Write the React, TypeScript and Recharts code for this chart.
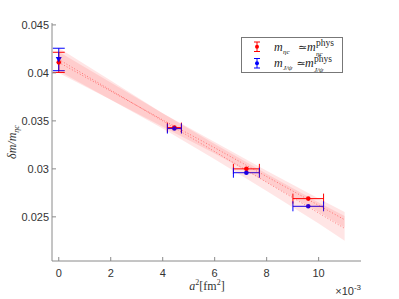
import React from 'react';
import {
  ComposedChart, Area, Line, Scatter, ErrorBar, XAxis, YAxis, Legend
} from 'recharts';

// a^2 in units of 1e-3 fm^2
const etaX = [0, 4.45, 7.22, 9.6];
const etaY = [0.0411, 0.0343, 0.03, 0.0269];
const etaXErr = [0, 0.27, 0.5, 0.59];
const etaYErr = [0.00105, 0, 0, 0];

const jpsiX = [0, 4.45, 7.22, 9.6];
const jpsiY = [0.0414, 0.0342, 0.0296, 0.0261];
const jpsiXErr = [0, 0.27, 0.5, 0.59];
const jpsiYErr = [0.00117, 0, 0, 0];

// continuum fits and their error bands
const fitX = [0, 2, 4, 6, 8, 10, 11];
const fit1Mid = [0.0411, 0.0381, 0.0351, 0.0322, 0.0292, 0.0262, 0.0247];
const fit1Lo = [0.04, 0.0372, 0.0344, 0.0316, 0.0286, 0.0255, 0.0239];
const fit1Hi = [0.0422, 0.039, 0.0358, 0.0328, 0.0298, 0.0269, 0.0255];
const fit2Mid = [0.0414, 0.0382, 0.035, 0.0318, 0.0286, 0.0254, 0.0238];
const fit2Lo = [0.0402, 0.0372, 0.0342, 0.031, 0.0277, 0.0243, 0.0225];
const fit2Hi = [0.0426, 0.0392, 0.0358, 0.0326, 0.0295, 0.0265, 0.0251];

const xTicks = [0, 2, 4, 6, 8, 10];
const yTicks = [0.025, 0.03, 0.035, 0.04, 0.045];

const etaData = etaX.map((x, i) => ({ x, y: etaY[i], ex: etaXErr[i], ey: etaYErr[i] }));
const jpsiData = jpsiX.map((x, i) => ({ x, y: jpsiY[i], ex: jpsiXErr[i], ey: jpsiYErr[i] }));
const band1 = fitX.map((x, i) => ({ x, r: [fit1Lo[i], fit1Hi[i]] }));
const band2 = fitX.map((x, i) => ({ x, r: [fit2Lo[i], fit2Hi[i]] }));
const line1 = fitX.map((x, i) => ({ x, y: fit1Mid[i] }));
const line2 = fitX.map((x, i) => ({ x, y: fit2Mid[i] }));

const AXIS = '#8a8a8a';
const TXT = '#333';
const SANS = '"Liberation Sans", Arial, sans-serif';
const SERIF = '"Liberation Serif", "DejaVu Serif", serif';

const redDot = (p: any) => <circle cx={p.cx} cy={p.cy} r={2.3} fill="#ff0000" />;
const blueDot = (p: any) => {
  if (p.payload && p.payload.x === 0) {
    const { cx, cy } = p;
    return <path d={`M${cx - 3},${cy - 2.5}L${cx + 3},${cy - 2.5}L${cx},${cy + 3}Z`} fill="#0000ff" />;
  }
  return <circle cx={p.cx} cy={p.cy} r={2.3} fill="#0000ff" />;
};

const LegendBox = () => (
  <svg width={102} height={36} style={{ display: 'block' }}>
    <rect x={0.5} y={0.5} width={101} height={35} fill="#fff" stroke="#777" />
    <g stroke="#ff0000" strokeWidth={1}>
      <line x1={16} y1={5} x2={16} y2={14.5} />
      <line x1={13} y1={5} x2={19} y2={5} />
      <line x1={13} y1={14.5} x2={19} y2={14.5} />
    </g>
    <circle cx={16} cy={9.7} r={2} fill="#ff0000" />
    <g stroke="#0000ff" strokeWidth={1}>
      <line x1={16} y1={21.5} x2={16} y2={31} />
      <line x1={13} y1={21.5} x2={19} y2={21.5} />
      <line x1={13} y1={31} x2={19} y2={31} />
    </g>
    <circle cx={16} cy={26.3} r={2} fill="#0000ff" />
    <g fontFamily={SERIF} fill="#222">
      <text x={33} y={14} fontSize={12} fontStyle="italic">m</text>
      <text x={42} y={17} fontSize={7} fontStyle="italic">ηc</text>
      <text x={57} y={14} fontSize={11}>≃</text>
      <text x={66} y={14} fontSize={12} fontStyle="italic">m</text>
      <text x={75} y={8.5} fontSize={9.5}>phys</text>
      <text x={75} y={18.5} fontSize={7} fontStyle="italic">ηc</text>
      <text x={33} y={30} fontSize={12} fontStyle="italic">m</text>
      <text x={42} y={33} fontSize={7} fontStyle="italic">J/ψ</text>
      <text x={55.5} y={30} fontSize={11}>≃</text>
      <text x={64} y={30} fontSize={12} fontStyle="italic">m</text>
      <text x={73} y={24.5} fontSize={9.5}>phys</text>
      <text x={73} y={34.5} fontSize={7} fontStyle="italic">J/ψ</text>
    </g>
  </svg>
);

const XLabel = () => (
  <g>
    <text x={207} y={290} textAnchor="middle" fontFamily={SERIF} fontSize={12} fill="#333">
      <tspan fontStyle="italic">a</tspan>
      <tspan fontSize={8} dy={-5}>2</tspan>
      <tspan dy={5}>[fm</tspan>
      <tspan fontSize={8} dy={-5}>2</tspan>
      <tspan dy={5}>]</tspan>
    </text>
    <text x={361} y={295} textAnchor="end" fontFamily={SANS} fontSize={11} fill={TXT}>
      <tspan>×10</tspan>
      <tspan fontSize={8} dy={-5}>-3</tspan>
    </text>
  </g>
);

const YLabel = () => (
  <text x={16} y={142} transform="rotate(-90, 16, 142)" textAnchor="middle"
    fontFamily={SERIF} fontSize={12} fill="#333" fontStyle="italic">
    <tspan>δm/m</tspan>
    <tspan fontSize={8} dy={3}>ηc</tspan>
  </text>
);

export default function App() {
  return (
    <div style={{ position: 'absolute', left: 0, top: 0, width: 399, height: 299, background: '#fff' }}>
      <ComposedChart width={399} height={299} margin={{ top: 23, right: 38, bottom: 0, left: 0 }}>
        <XAxis xAxisId={0} dataKey="x" type="number" domain={[-0.26, 11.63]} allowDataOverflow
          ticks={xTicks} height={38} tickSize={-4} tickMargin={12}
          stroke={AXIS} tick={{ fill: TXT, fontSize: 11, fontFamily: SANS }}
          label={{ content: () => <XLabel /> }} />
        <XAxis xAxisId="top" orientation="top" dataKey="x" type="number" domain={[-0.26, 11.63]}
          allowDataOverflow ticks={xTicks} height={0} tickSize={-4} tick={false} stroke={AXIS} />
        <YAxis yAxisId={0} type="number" domain={[0.0204, 0.0452]} allowDataOverflow ticks={yTicks}
          width={52} tickSize={-4} tickMargin={7} stroke={AXIS}
          tick={{ fill: TXT, fontSize: 11, fontFamily: SANS }}
          label={{ content: () => <YLabel /> }} />
        <YAxis yAxisId="right" orientation="right" type="number" domain={[0.0204, 0.0452]}
          allowDataOverflow ticks={yTicks} width={0} tickSize={-4} tick={false} stroke={AXIS} />
        <Scatter data={etaData} dataKey="y" shape={redDot} isAnimationActive={false}>
          <ErrorBar dataKey="ey" direction="y" stroke="#ff0000" width={6} strokeWidth={1} isAnimationActive={false} />
          <ErrorBar dataKey="ex" direction="x" stroke="#ff0000" width={5} strokeWidth={1} isAnimationActive={false} />
        </Scatter>
        <Scatter data={jpsiData} dataKey="y" shape={blueDot} isAnimationActive={false}>
          <ErrorBar dataKey="ey" direction="y" stroke="#0000ff" width={6} strokeWidth={1} isAnimationActive={false} />
          <ErrorBar dataKey="ex" direction="x" stroke="#0000ff" width={5} strokeWidth={1} isAnimationActive={false} />
        </Scatter>
        <Area data={band1} dataKey="r" type="linear" stroke="none" fill="#ff0000" fillOpacity={0.1}
          isAnimationActive={false} zIndex={700} />
        <Area data={band2} dataKey="r" type="linear" stroke="none" fill="#ff0000" fillOpacity={0.1}
          isAnimationActive={false} zIndex={700} />
        <Line data={line1} dataKey="y" type="linear" stroke="#ff0000" strokeOpacity={0.45} strokeWidth={1}
          strokeDasharray="1 2" dot={false} isAnimationActive={false} zIndex={710} />
        <Line data={line2} dataKey="y" type="linear" stroke="#ff0000" strokeOpacity={0.45} strokeWidth={1}
          strokeDasharray="1 2" dot={false} isAnimationActive={false} zIndex={710} />
        <Legend layout="vertical" align="center" verticalAlign="middle" content={() => <LegendBox />}
          wrapperStyle={{ left: 241, top: 37, width: 102, height: 36 }} />
      </ComposedChart>
    </div>
  );
}
